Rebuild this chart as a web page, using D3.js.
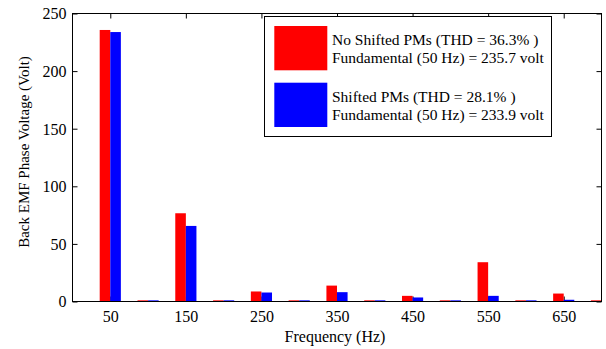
<!DOCTYPE html>
<html>
<head>
<meta charset="utf-8">
<script src="https://cdn.jsdelivr.net/npm/d3@7"></script>
<style>
  html, body { margin: 0; padding: 0; background: #fff; }
  svg text { font-family: "Liberation Serif", "Times New Roman", Times, serif !important; }
</style>
</head>
<body>
<svg id="chart" width="606" height="349"></svg>
<script>
// Harmonic spectrum of back EMF phase voltage
const frequencies = [50, 100, 150, 200, 250, 300, 350, 400, 450, 500, 550, 600, 650, 700];
const noShiftedPMs = [235.7, 1.0, 76.6, 1.0, 8.7, 1.0, 13.8, 1.0, 4.9, 1.0, 34.1, 1.0, 6.9, 1.0];
const shiftedPMs   = [233.9, 1.0, 65.6, 1.0, 7.8, 1.0, 8.1, 1.0, 3.5, 1.0, 4.9, 1.0, 1.5, 1.0];
const xTickValues = [50, 150, 250, 350, 450, 550, 650];
const yTickValues = [0, 50, 100, 150, 200, 250];
const legendLines = [
  ["No Shifted PMs (THD = 36.3% )", "Fundamental (50 Hz) = 235.7 volt"],
  ["Shifted PMs (THD = 28.1% )", "Fundamental (50 Hz) = 233.9 volt"]
];
const seriesColors = ["#ff0000", "#0000ff"];

const FONT = "'Liberation Serif', 'Times New Roman', Times, serif";
const svg = d3.select("#chart").attr("font-family", FONT);
const plotLeft = 72.5, plotRight = 601.5, plotTop = 13.5, plotBottom = 301.5;

const x = d3.scaleLinear().domain([0, 700]).range([plotLeft, plotRight]);
const y = d3.scaleLinear().domain([0, 250]).range([plotBottom, plotTop]);
const barSpan = 14; // Hz covered by each bar within a group

svg.append("defs").append("clipPath").attr("id", "plot")
  .append("rect").attr("x", plotLeft).attr("y", plotTop)
  .attr("width", plotRight - plotLeft).attr("height", plotBottom - plotTop);

// Ticks sit beneath the bars (inward ticks on all four sides)
const tickStyle = g => {
  g.attr("font-family", FONT);
  g.select(".domain").remove();
  g.selectAll(".tick line").attr("stroke", "#000");
  g.selectAll("text").attr("fill", "#000");
};

svg.append("g").attr("transform", `translate(${plotLeft},0)`)
  .call(d3.axisLeft(y).tickValues(yTickValues).tickSize(-5).tickPadding(6).tickFormat(d3.format("d")))
  .call(tickStyle)
  .call(g => g.attr("font-size", 16).selectAll("text").attr("dy", "0.34em"));

svg.append("g").attr("transform", `translate(${plotRight},0)`)
  .call(d3.axisRight(y).tickValues(yTickValues).tickSize(-5).tickFormat(""))
  .call(tickStyle);

svg.append("g").attr("transform", `translate(0,${plotBottom})`)
  .call(d3.axisBottom(x).tickValues(xTickValues).tickSize(-5).tickPadding(9).tickFormat(d3.format("d")))
  .call(tickStyle)
  .call(g => g.attr("font-size", 16));

svg.append("g").attr("transform", `translate(0,${plotTop})`)
  .call(d3.axisTop(x).tickValues(xTickValues).tickSize(-5).tickFormat(""))
  .call(tickStyle);

// Grouped bars: red left of the harmonic, blue right of it
const bars = svg.append("g").attr("clip-path", "url(#plot)");
[noShiftedPMs, shiftedPMs].forEach((series, si) => {
  bars.selectAll(null)
    .data(frequencies.map((f, i) => ({ f, v: series[i] })))
    .join("rect")
    .attr("x", d => si === 0 ? x(d.f - barSpan) : x(d.f))
    .attr("width", d => x(d.f + barSpan) - x(d.f))
    .attr("y", d => y(d.v))
    .attr("height", d => y(0) - y(d.v))
    .attr("fill", seriesColors[si]);
});

// Axes box
svg.append("rect")
  .attr("x", plotLeft).attr("y", plotTop)
  .attr("width", plotRight - plotLeft).attr("height", plotBottom - plotTop)
  .attr("fill", "none").attr("stroke", "#000").attr("stroke-width", 1);

// Axis titles
svg.append("text")
  .attr("x", 335).attr("y", 341.5)
  .attr("text-anchor", "middle")
  .attr("font-size", 16)
  .text("Frequency (Hz)");

svg.append("text")
  .attr("transform", "translate(29,152) rotate(-90)")
  .attr("text-anchor", "middle")
  .attr("font-size", 15)
  .text("Back EMF Phase Voltage (Volt)");

// Legend
const legend = svg.append("g");
legend.append("rect")
  .attr("x", 264.5).attr("y", 16.5).attr("width", 287).attr("height", 120)
  .attr("fill", "#fff").attr("stroke", "#000").attr("stroke-width", 1);

legendLines.forEach((lines, i) => {
  const y0 = 26 + i * 56.7;
  legend.append("rect")
    .attr("x", 274.3).attr("y", y0).attr("width", 53).attr("height", 44.3)
    .attr("fill", seriesColors[i]);
  lines.forEach((t, j) => {
    legend.append("text")
      .attr("x", 332).attr("y", y0 + 19 + j * 18.3)
      .attr("font-size", 15.5)
      .text(t);
  });
});
</script>
</body>
</html>
